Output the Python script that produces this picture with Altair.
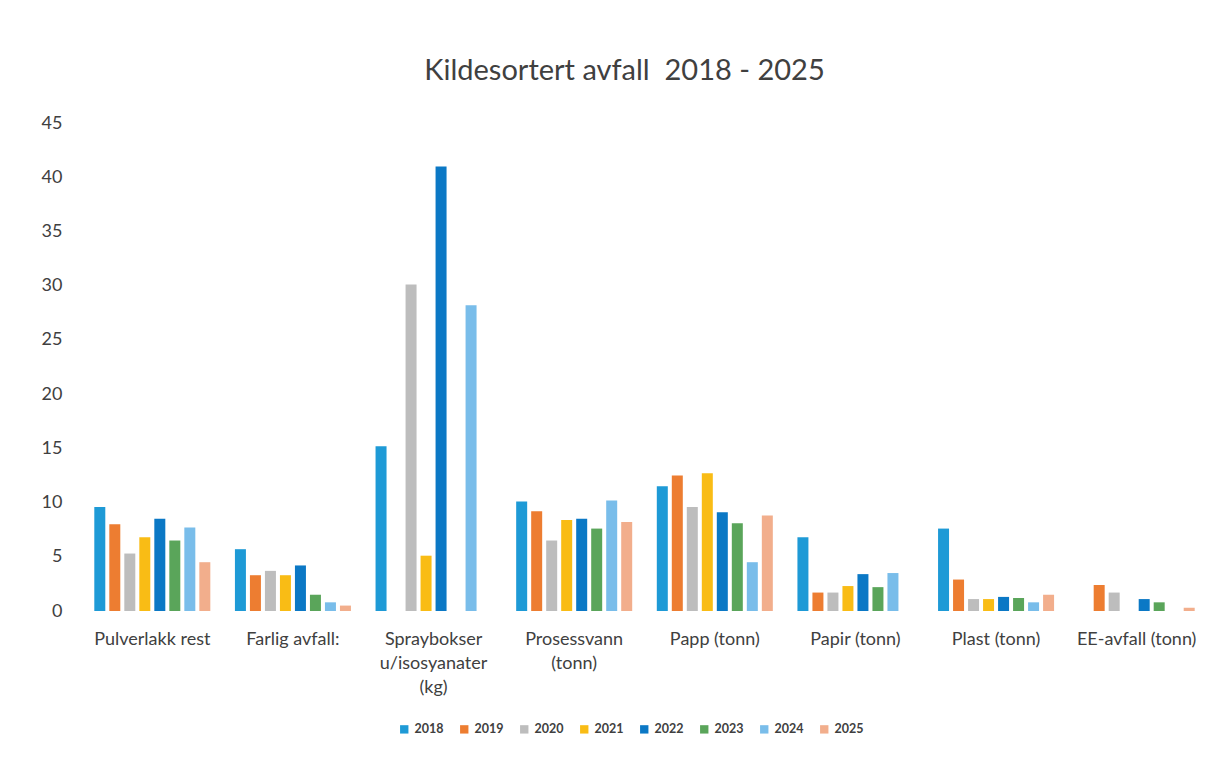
import altair as alt
import pandas as pd

categories = ["Pulverlakk rest", "Farlig avfall:", "Spraybokser|u/isosyanater|(kg)",
              "Prosessvann|(tonn)", "Papp (tonn)", "Papir (tonn)", "Plast (tonn)", "EE-avfall (tonn)"]
years = ["2018", "2019", "2020", "2021", "2022", "2023", "2024", "2025"]

v2018 = [9.6, 5.7, 15.2, 10.1, 11.5, 6.8, 7.6, None]
v2019 = [8.0, 3.3, None, 9.2, 12.5, 1.7, 2.9, 2.4]
v2020 = [5.3, 3.7, 30.1, 6.5, 9.6, 1.7, 1.1, 1.7]
v2021 = [6.8, 3.3, 5.1, 8.4, 12.7, 2.3, 1.1, None]
v2022 = [8.5, 4.2, 41.0, 8.5, 9.1, 3.4, 1.3, 1.1]
v2023 = [6.5, 1.5, None, 7.6, 8.1, 2.2, 1.2, 0.8]
v2024 = [7.7, 0.8, 28.2, 10.2, 4.5, 3.5, 0.8, None]
v2025 = [4.5, 0.5, None, 8.2, 8.8, None, 1.5, 0.3]

colors = ["#1E9AD6", "#ED7D31", "#BDBDBD", "#F9BC15", "#0B78C5", "#5AA55A", "#79BDEA", "#F2AE8C"]

series = [v2018, v2019, v2020, v2021, v2022, v2023, v2024, v2025]
rows = []
for y, vals in zip(years, series):
    for c, v in zip(categories, vals):
        if v is not None:
            rows.append({"kategori": c, "år": y, "verdi": v})
df = pd.DataFrame(rows)

FONT = "Lato"
TXT = "#404040"

chart = alt.Chart(df).mark_bar().encode(
    x=alt.X("kategori:N", sort=categories,
            scale=alt.Scale(paddingInner=0, paddingOuter=0),
            axis=alt.Axis(title=None, labelAngle=0, domain=False, ticks=False,
                          labelFontSize=18, labelColor=TXT, labelFont=FONT,
                          labelPadding=19, labelLineHeight=24, labelBaseline="top",
                          labelExpr="split(datum.label, '|')")),
    xOffset=alt.XOffset("år:N", sort=years,
                        scale=alt.Scale(paddingInner=0.267, paddingOuter=0.82)),
    y=alt.Y("verdi:Q", scale=alt.Scale(domain=[0, 45], nice=False),
            axis=alt.Axis(title=None, values=list(range(0, 50, 5)), grid=False,
                          domain=False, ticks=False, labelFontSize=18,
                          labelColor=TXT, labelFont=FONT, labelPadding=20)),
    color=alt.Color("år:N", sort=years,
                    scale=alt.Scale(domain=years, range=colors),
                    legend=alt.Legend(title=None, orient="none", direction="horizontal",
                                      legendX=316, legendY=600, symbolType="square",
                                      symbolSize=70, labelFontSize=12.5, labelFontWeight="bold",
                                      labelColor=TXT, labelFont=FONT, columnPadding=14,
                                      labelOffset=4)),
).properties(
    width=1125,
    height=488,
    background="white",
    title=alt.TitleParams("Kildesortert avfall\u00a0\u00a02018 - 2025", fontSize=29,
                          font=FONT, fontWeight="normal", color=TXT,
                          anchor="middle", offset=28, dx=-20),
    autosize=alt.AutoSizeParams(type="none"),
    padding={"left": 74, "top": 115, "right": 16, "bottom": 140},
).configure_view(strokeWidth=0)

chart.save("out.html", embed_options={"renderer": "svg", "actions": False})
